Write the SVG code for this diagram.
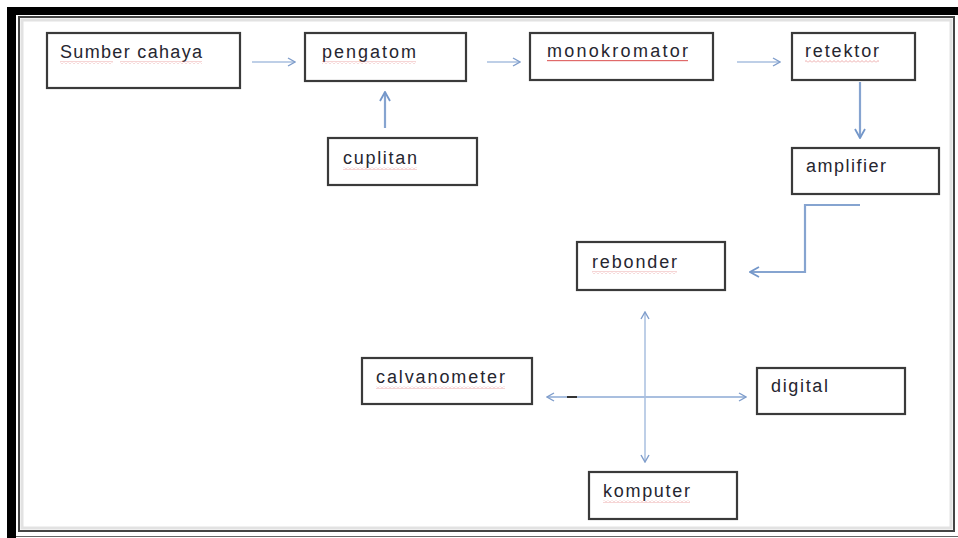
<svg xmlns="http://www.w3.org/2000/svg" width="958" height="538" viewBox="0 0 958 538">
<defs>
<style>
.box{fill:#fff;stroke:#3a3a3a;stroke-width:2.2}
.lbl{font-family:"Liberation Sans",Arial,sans-serif;font-size:18px;fill:#262630}
.sq{fill:url(#wave);opacity:0.8}
.c1{fill:none;stroke:#a9bfdf;stroke-width:1.5}
.c2{fill:none;stroke:#86a4d0;stroke-width:2.2}
</style>
<pattern id="wave" x="0" y="0" width="4" height="3" patternUnits="userSpaceOnUse">
<path d="M0,2.5 L2,0.5 L4,2.5" fill="none" stroke="#e06a6a" stroke-width="0.7"/>
</pattern>
<marker id="ah1" viewBox="0 0 10 10" refX="9" refY="5" markerWidth="10" markerHeight="10" markerUnits="userSpaceOnUse" orient="auto-start-reverse">
<path d="M2,1 L9,5 L2,9" fill="none" stroke="#7f9dcb" stroke-width="1.4"/>
</marker>
<marker id="ah2" viewBox="0 0 12 12" refX="11" refY="6" markerWidth="12" markerHeight="12" markerUnits="userSpaceOnUse" orient="auto-start-reverse">
<path d="M2,1 L11,6 L2,11" fill="none" stroke="#7396c9" stroke-width="1.8"/>
</marker>
</defs>
<rect width="958" height="538" fill="#fff"/>
<g id="frame">
<rect x="7" y="7" width="9" height="531" fill="#000"/>
<rect x="7" y="7" width="951" height="8" fill="#000"/>
<rect x="19" y="17" width="935" height="514" fill="none" stroke="#444" stroke-width="2"/>
<rect x="22" y="20" width="929" height="508" fill="none" stroke="#e2e2e2" stroke-width="3"/>
<line x1="16" y1="536.5" x2="958" y2="536.5" stroke="#666" stroke-width="1"/>
</g>
<g id="n-sumber"><rect class="box" x="47" y="33" width="193" height="55"/><text class="lbl" x="60" y="58" textLength="142" lengthAdjust="spacing">Sumber cahaya</text><rect class="sq" x="60" y="61" width="53" height="3"/><rect class="sq" x="120" y="61" width="82" height="3"/></g>
<g id="n-pengatom"><rect class="box" x="305" y="33" width="161" height="48"/><text class="lbl" x="322" y="58" textLength="94" lengthAdjust="spacing">pengatom</text><rect class="sq" x="322" y="61" width="94" height="3"/></g>
<g id="n-monokromator"><rect class="box" x="530" y="33" width="183" height="47"/><text class="lbl" x="547" y="57" textLength="141" lengthAdjust="spacing">monokromator</text><rect x="547" y="60" width="141" height="1.2" fill="#e06a6a"/></g>
<g id="n-retektor"><rect class="box" x="792" y="33" width="123" height="47"/><text class="lbl" x="805" y="57" textLength="74" lengthAdjust="spacing">retektor</text><rect class="sq" x="805" y="60" width="74" height="3"/></g>
<g id="n-cuplitan"><rect class="box" x="328" y="138" width="149" height="47"/><text class="lbl" x="343" y="164" textLength="74" lengthAdjust="spacing">cuplitan</text><rect class="sq" x="343" y="167" width="74" height="3"/></g>
<g id="n-amplifier"><rect class="box" x="792" y="148" width="147" height="46"/><text class="lbl" x="806" y="172" textLength="80" lengthAdjust="spacing">amplifier</text></g>
<g id="n-rebonder"><rect class="box" x="577" y="242" width="148" height="48"/><text class="lbl" x="592" y="268" textLength="85" lengthAdjust="spacing">rebonder</text><rect class="sq" x="592" y="271" width="85" height="3"/></g>
<g id="n-calvanometer"><rect class="box" x="362" y="358" width="170" height="46"/><text class="lbl" x="376" y="383" textLength="129" lengthAdjust="spacing">calvanometer</text><rect class="sq" x="376" y="386" width="129" height="3"/></g>
<g id="n-digital"><rect class="box" x="757" y="368" width="148" height="46"/><text class="lbl" x="771" y="392" textLength="57" lengthAdjust="spacing">digital</text></g>
<g id="n-komputer"><rect class="box" x="589" y="472" width="148" height="47"/><text class="lbl" x="603" y="497" textLength="87" lengthAdjust="spacing">komputer</text><rect class="sq" x="603" y="500" width="87" height="3"/></g>
<g id="connectors">
<line class="c1" x1="252" y1="62" x2="295" y2="62" marker-end="url(#ah1)"/>
<line class="c1" x1="487" y1="62" x2="520" y2="62" marker-end="url(#ah1)"/>
<line class="c1" x1="737" y1="62" x2="780" y2="62" marker-end="url(#ah1)"/>
<line class="c2" x1="385" y1="128" x2="385" y2="92" marker-end="url(#ah2)"/>
<line class="c2" x1="860" y1="82" x2="860" y2="138" marker-end="url(#ah2)"/>
<polyline class="c2" points="860,205 805,205 805,272 750,272" marker-end="url(#ah2)"/>
<line class="c1" x1="645" y1="312" x2="645" y2="462" marker-start="url(#ah1)" marker-end="url(#ah1)"/>
<line class="c1" x1="547" y1="397" x2="746" y2="397" marker-start="url(#ah1)" marker-end="url(#ah1)" style="stroke-width:2"/>
<line x1="567" y1="397" x2="577" y2="397" stroke="#333" stroke-width="2"/>
</g>
</svg>
